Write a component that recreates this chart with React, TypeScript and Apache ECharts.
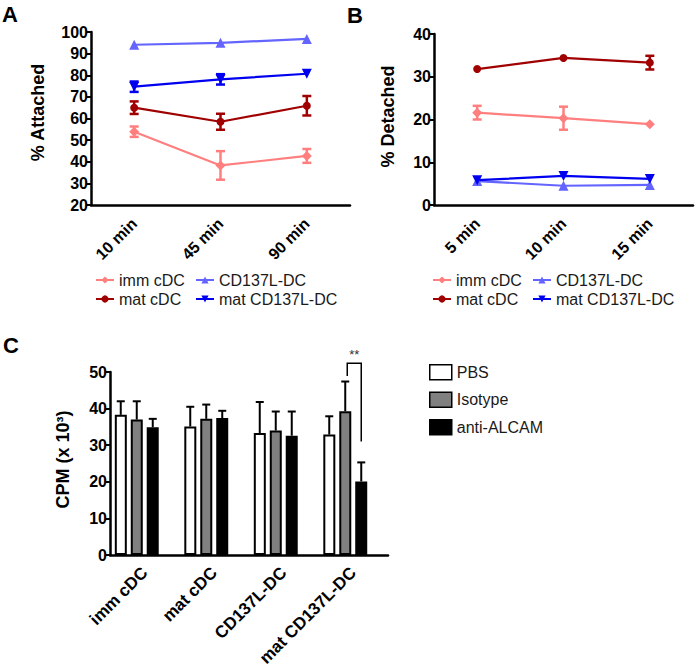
import React, { useEffect, useRef } from "react";
import * as echarts from "echarts";

// ---------- data ----------
const TIMES_ATTACH = ["10 min", "45 min", "90 min"];
const TIMES_DETACH = ["5 min", "10 min", "15 min"];
const GROUPS = ["imm cDC", "mat cDC", "CD137L-DC", "mat CD137L-DC"];

// % Attached (mean, SEM)
const ATT_IMM = [53.9, 38.3, 42.7];
const ATT_IMM_SEM = [2.4, 6.6, 3.2];
const ATT_MAT = [65.0, 58.5, 65.9];
const ATT_MAT_SEM = [2.9, 3.7, 4.5];
const ATT_CD137L = [94.1, 95.0, 96.8];
const ATT_CD137L_SEM = [0, 0, 0];
const ATT_MATCD137L = [74.7, 78.1, 80.7];
const ATT_MATCD137L_SEM = [2.4, 2.4, 0];

// % Detached (mean, SEM)
const DET_IMM = [21.6, 20.3, 18.9];
const DET_IMM_SEM = [1.6, 2.7, 0];
const DET_MAT = [31.8, 34.4, 33.3];
const DET_MAT_SEM = [0, 0, 1.6];
const DET_CD137L = [5.6, 4.5, 4.7];
const DET_CD137L_SEM = [0, 0, 0];
const DET_MATCD137L = [5.8, 6.8, 6.1];
const DET_MATCD137L_SEM = [0, 0, 0];

// CPM (x 10^3)
const CELL_TYPES = ["imm cDC", "mat cDC", "CD137L-DC", "mat CD137L-DC"];
const TREATMENTS = ["PBS", "Isotype", "anti-ALCAM"];
const CPM_PBS = [38.3, 35.1, 33.3, 32.9];
const CPM_PBS_SEM = [3.7, 5.4, 8.5, 5.0];
const CPM_ISO = [37.0, 37.2, 34.0, 39.3];
const CPM_ISO_SEM = [5.0, 3.9, 5.2, 8.1];
const CPM_ANTI = [34.9, 37.4, 32.6, 20.1];
const CPM_ANTI_SEM = [2.3, 2.0, 6.6, 5.2];

// significance bracket: [category, bracket top, left leg end, right leg end]
const SIG_BRACKET = [[3, 52.4, 48.9, 31.0]];
const SIG_LABEL = "**";

const FONT = "'Liberation Sans', Arial, Helvetica, sans-serif";
const LINE_COLORS = ["#FF7F7F", "#A00000", "#6464FF", "#0000F0"];
const LINE_SYMBOLS = ["diamond", "circle", "triangle", "triangle"];
const LINE_SYMBOL_ROT = [0, 0, 0, 180];
const BAR_COLORS = ["#FFFFFF", "#808080", "#000000"];
const BAR_W = 12;
const BAR_GAP = 4;
// bars sit in 4 slots (the 4th empty), giving the left-shifted groups of the original
const SLOT_CENTER = 1.5;

function errorRender(color: string, both: boolean, offset: number, capHalf: number, lw: number) {
  return (params: any, api: any) => {
    const i = api.value(0);
    const v = api.value(1);
    const e = api.value(2);
    if (!e) return { type: "group", children: [] };
    const top = api.coord([i, v + e]);
    const bot = api.coord([i, both ? v - e : v]);
    const x = top[0] + offset;
    const style = { stroke: color, lineWidth: lw };
    const children: any[] = [
      { type: "line", shape: { x1: x, y1: top[1], x2: x, y2: bot[1] }, style },
      { type: "line", shape: { x1: x - capHalf, y1: top[1], x2: x + capHalf, y2: top[1] }, style },
    ];
    if (both) {
      children.push({ type: "line", shape: { x1: x - capHalf, y1: bot[1], x2: x + capHalf, y2: bot[1] }, style });
    }
    return { type: "group", children };
  };
}

function lineAxisX(idx: number, cats: string[]) {
  return {
    type: "category",
    gridIndex: idx,
    data: cats,
    boundaryGap: true,
    axisLine: { lineStyle: { color: "#000", width: 2.5 } },
    axisTick: { alignWithLabel: true, length: 5, lineStyle: { color: "#000", width: 2 } },
    axisLabel: { rotate: 45, margin: 16, color: "#000", fontWeight: "bold", fontSize: 16, fontFamily: FONT },
  };
}

function valueAxisY(idx: number, min: number, max: number, interval: number, name: string, nameGap: number, pad: number) {
  return {
    type: "value",
    gridIndex: idx,
    min,
    max,
    interval,
    name,
    nameLocation: "middle",
    nameGap,
    nameTextStyle: { color: "#000", fontWeight: "bold", fontSize: 18, fontFamily: FONT, padding: [0, 0, 0, pad] },
    splitLine: { show: false },
    axisLine: { show: true, lineStyle: { color: "#000", width: 2.5 } },
    axisTick: { show: true, length: 5, lineStyle: { color: "#000", width: 2 } },
    axisLabel: { color: "#000", fontWeight: "bold", fontSize: 16, fontFamily: FONT, margin: 3 },
  };
}

function lineSeries(gridIdx: number, means: number[][], sems: number[][]) {
  const out: any[] = [];
  means.forEach((m, g) => {
    out.push({
      type: "custom",
      xAxisIndex: gridIdx,
      yAxisIndex: gridIdx,
      z: 2,
      renderItem: errorRender(LINE_COLORS[g], true, 0, 4.5, 2.5),
      encode: { x: 0, y: 1 },
      data: m.map((v, i) => [i, v, sems[g][i]]),
    });
  });
  means.forEach((m, g) => {
    out.push({
      type: "line",
      name: GROUPS[g],
      xAxisIndex: gridIdx,
      yAxisIndex: gridIdx,
      z: 3,
      data: m,
      symbol: LINE_SYMBOLS[g],
      symbolRotate: LINE_SYMBOL_ROT[g],
      symbolSize: g === 1 ? 8 : 10,
      color: LINE_COLORS[g],
      itemStyle: { color: LINE_COLORS[g] },
      lineStyle: { color: LINE_COLORS[g], width: 2.2 },
    });
  });
  return out;
}

function lineLegend(left: number, top: number, data: string[]) {
  return {
    left,
    top,
    orient: "vertical",
    itemGap: 3,
    itemWidth: 18,
    itemHeight: 9,
    data,
    textStyle: { color: "#1a1a1a", fontSize: 16, fontFamily: FONT },
  };
}

export default function App() {
  const ref = useRef<HTMLDivElement>(null);
  useEffect(() => {
    document.body.style.margin = "0";
    if (!ref.current) return;
    const chart = echarts.init(ref.current, undefined, { renderer: "svg" });

    const barMeans = [CPM_PBS, CPM_ISO, CPM_ANTI];
    const barSems = [CPM_PBS_SEM, CPM_ISO_SEM, CPM_ANTI_SEM];
    const slotOffset = (k: number) => (k - SLOT_CENTER) * (BAR_W + BAR_GAP);
    const barSeries: any[] = barMeans.map((m, k) => ({
      type: "bar",
      name: TREATMENTS[k],
      xAxisIndex: 2,
      yAxisIndex: 2,
      data: m,
      barWidth: BAR_W,
      barGap: "33%",
      z: 2,
      itemStyle: { color: BAR_COLORS[k], borderColor: "#000", borderWidth: 2 },
    }));
    // empty 4th slot
    barSeries.push({
      type: "bar",
      xAxisIndex: 2,
      yAxisIndex: 2,
      data: CELL_TYPES.map(() => null),
      barWidth: BAR_W,
      barGap: "33%",
      silent: true,
    });
    const barErrs: any[] = barMeans.map((m, k) => ({
      type: "custom",
      xAxisIndex: 2,
      yAxisIndex: 2,
      z: 1,
      renderItem: errorRender("#000", false, slotOffset(k), 4, 2),
      encode: { x: 0, y: 1 },
      data: m.map((v, i) => [i, v, barSems[k][i]]),
    }));
    const bracket = {
      type: "custom",
      xAxisIndex: 2,
      yAxisIndex: 2,
      z: 4,
      encode: { x: 0, y: 2 },
      data: SIG_BRACKET,
      renderItem: (params: any, api: any) => {
        const c = api.value(0);
        const top = api.coord([c, api.value(1)]);
        const lb = api.coord([c, api.value(2)]);
        const rb = api.coord([c, api.value(3)]);
        const xl = top[0] + slotOffset(1) + 2;
        const xr = top[0] + slotOffset(2);
        return {
          type: "group",
          children: [
            {
              type: "polyline",
              shape: { points: [[xl, lb[1]], [xl, top[1]], [xr, top[1]], [xr, rb[1]]] },
              style: { stroke: "#000", lineWidth: 1.5, fill: "none" },
            },
            {
              type: "text",
              x: (xl + xr) / 2,
              y: top[1] - 2,
              style: { text: SIG_LABEL, fill: "#333", fontSize: 13, fontFamily: FONT, align: "center", verticalAlign: "bottom" },
            },
          ],
        };
      },
    };

    const option: any = {
      animation: false,
      backgroundColor: "#fff",
      textStyle: { fontFamily: FONT },
      grid: [
        { left: 91, top: 32, width: 259, height: 173 },
        { left: 434, top: 34, width: 259, height: 171 },
        { left: 110, top: 372, width: 278, height: 183 },
      ],
      xAxis: [
        lineAxisX(0, TIMES_ATTACH),
        lineAxisX(1, TIMES_DETACH),
        {
          type: "category",
          gridIndex: 2,
          data: CELL_TYPES,
          axisLine: { lineStyle: { color: "#000", width: 2.5 } },
          axisTick: { alignWithLabel: true, length: 5, lineStyle: { color: "#000", width: 2 } },
          axisLabel: { rotate: 45, margin: 15, color: "#000", fontWeight: "bold", fontSize: 17, fontFamily: FONT, interval: 0 },
        },
      ],
      yAxis: [
        valueAxisY(0, 20, 100, 10, "% Attached", 44, 12),
        valueAxisY(1, 0, 40, 10, "% Detached", 37, 6),
        valueAxisY(2, 0, 50, 10, "CPM (x 10³)", 38, 8),
      ],
      legend: [
        lineLegend(90, 267, [GROUPS[0], GROUPS[1]]),
        lineLegend(190, 267, [GROUPS[2], GROUPS[3]]),
        lineLegend(427, 267, [GROUPS[0], GROUPS[1]]),
        lineLegend(527, 267, [GROUPS[2], GROUPS[3]]),
        {
          left: 424,
          top: 359,
          orient: "vertical",
          itemGap: 11,
          itemWidth: 22,
          itemHeight: 15,
          data: TREATMENTS,
          icon: "rect",
          itemStyle: { borderColor: "#000", borderWidth: 1.5 },
          textStyle: { color: "#1a1a1a", fontSize: 16, fontFamily: FONT },
        },
      ],
      graphic: [
        { type: "text", left: 2, top: 3, style: { text: "A", fontSize: 22, fontWeight: "bold", fill: "#000", fontFamily: FONT } },
        { type: "text", left: 347, top: 4, style: { text: "B", fontSize: 22, fontWeight: "bold", fill: "#000", fontFamily: FONT } },
        { type: "text", left: 3, top: 334, style: { text: "C", fontSize: 22, fontWeight: "bold", fill: "#000", fontFamily: FONT } },
      ],
      series: [
        ...lineSeries(0, [ATT_IMM, ATT_MAT, ATT_CD137L, ATT_MATCD137L], [ATT_IMM_SEM, ATT_MAT_SEM, ATT_CD137L_SEM, ATT_MATCD137L_SEM]),
        ...lineSeries(1, [DET_IMM, DET_MAT, DET_CD137L, DET_MATCD137L], [DET_IMM_SEM, DET_MAT_SEM, DET_CD137L_SEM, DET_MATCD137L_SEM]),
        ...barErrs,
        ...barSeries,
        bracket,
      ],
    };
    chart.setOption(option);
    return () => chart.dispose();
  }, []);
  return <div ref={ref} style={{ width: 697, height: 670 }} />;
}
